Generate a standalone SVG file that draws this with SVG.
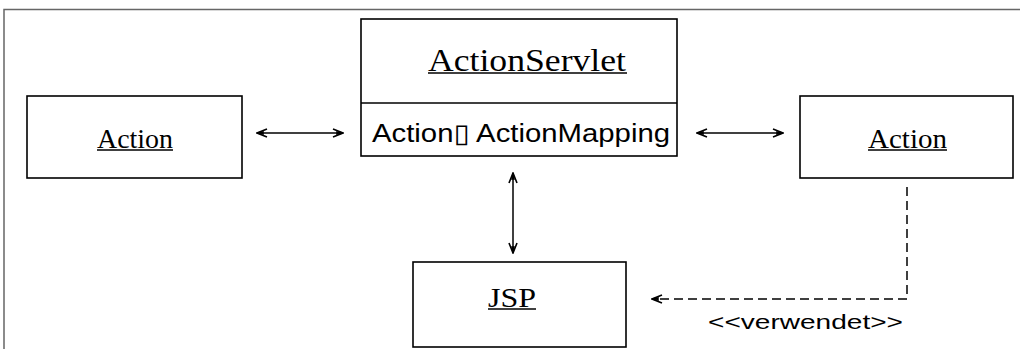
<svg xmlns="http://www.w3.org/2000/svg" width="1020" height="349" viewBox="0 0 1020 349">
<defs>
<style>
.box{fill:#fff;stroke:#000;stroke-width:1.6}
.title{font-family:"Liberation Serif",serif;fill:#000}
.attr{font-family:"Liberation Sans","DejaVu Sans",sans-serif;fill:#000}
.ul{stroke:#000;stroke-width:1.3}
.conn{fill:none;stroke:#000;stroke-width:1.5}
.dash{fill:none;stroke:#000;stroke-width:1.5;stroke-dasharray:9 5}
</style>
<marker id="ah" viewBox="0 0 12 10" refX="11" refY="5" markerWidth="12" markerHeight="10" markerUnits="userSpaceOnUse" orient="auto-start-reverse">
<path d="M1,1 L11,5 L1,9" fill="none" stroke="#000" stroke-width="1.6"/>
<path d="M5,4 L11,5 L5,6 Z" fill="#000" stroke="#000" stroke-width="1.5"/>
</marker>
</defs>
<rect x="0" y="0" width="1020" height="349" fill="#fff"/>
<path d="M4,349 V9.5 H1020" fill="none" stroke="#666" stroke-width="1.5"/>
<g id="actionservlet">
<rect class="box" x="361" y="19" width="316" height="137"/>
<line x1="361" y1="103" x2="677" y2="103" stroke="#000" stroke-width="1.6"/>
<text class="title" x="428" y="71" font-size="31" textLength="198" lengthAdjust="spacingAndGlyphs">ActionServlet</text>
<line class="ul" x1="428" y1="73" x2="627" y2="73"/>
<text class="attr" x="372" y="142" font-size="26" textLength="298" lengthAdjust="spacingAndGlyphs">Action▯ ActionMapping</text>
</g>
<g id="action-left">
<rect class="box" x="27" y="96" width="215" height="82"/>
<text class="title" x="97" y="148" font-size="28" textLength="76" lengthAdjust="spacingAndGlyphs">Action</text>
<line class="ul" x1="97" y1="150" x2="173" y2="150"/>
</g>
<g id="action-right">
<rect class="box" x="800" y="96" width="213" height="82"/>
<text class="title" x="868" y="148" font-size="28" textLength="79" lengthAdjust="spacingAndGlyphs">Action</text>
<line class="ul" x1="868" y1="150" x2="947" y2="150"/>
</g>
<g id="jsp">
<rect class="box" x="413" y="262" width="213" height="85"/>
<text class="title" x="488" y="307" font-size="28" textLength="48" lengthAdjust="spacingAndGlyphs">JSP</text>
<line class="ul" x1="488" y1="309" x2="536" y2="309"/>
</g>
<g id="connectors">
<line class="conn" x1="257" y1="133" x2="343" y2="133" marker-start="url(#ah)" marker-end="url(#ah)"/>
<line class="conn" x1="697" y1="133" x2="783" y2="133" marker-start="url(#ah)" marker-end="url(#ah)"/>
<line class="conn" x1="513" y1="173" x2="513" y2="253" marker-start="url(#ah)" marker-end="url(#ah)"/>
<path class="dash" d="M907,187 V299 H652" marker-end="url(#ah)"/>
<text class="attr" x="708" y="329" font-size="21" textLength="195" lengthAdjust="spacingAndGlyphs">&lt;&lt;verwendet&gt;&gt;</text>
</g>
</svg>
